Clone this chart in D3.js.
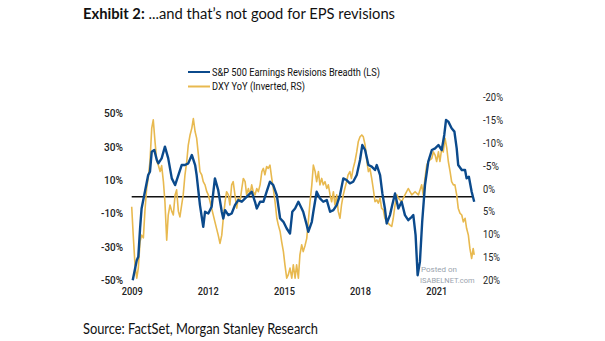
<!DOCTYPE html>
<html>
<head>
<meta charset="utf-8">
<script src="https://cdn.jsdelivr.net/npm/d3@7"></script>
<style>
  html, body { margin: 0; padding: 0; background: #fff; }
  svg { display: block; }
  text { font-family: Roboto, "Noto Sans", sans-serif; }
</style>
</head>
<body>
<svg id="viz" width="605" height="341"></svg>
<script>
(() => {
  // S&P 500 Earnings Revisions Breadth (left scale, %), [decimal year, value]
  const breadth = [
    [2009.04, -50], [2009.20, -38], [2009.26, -36], [2009.33, -19], [2009.39, -7],
    [2009.52, 3], [2009.65, 13], [2009.72, 15], [2009.79, 27], [2009.89, 28],
    [2009.99, 22], [2010.05, 20], [2010.18, 23], [2010.31, 30], [2010.44, 23],
    [2010.58, 11], [2010.71, 7], [2010.84, 13], [2010.97, 19], [2011.10, 19],
    [2011.23, 20], [2011.37, 25], [2011.50, 19], [2011.56, 13], [2011.69, -5],
    [2011.76, -12], [2011.82, -18], [2011.89, -9], [2012.02, -10], [2012.15, -6],
    [2012.28, 11], [2012.41, 4], [2012.55, -9], [2012.61, -13], [2012.68, -8],
    [2012.81, -11], [2012.94, -10], [2013.07, -5], [2013.20, -2], [2013.34, -3],
    [2013.47, -1], [2013.60, 1], [2013.73, 3], [2013.86, -3], [2013.93, -7],
    [2014.06, -3], [2014.19, -3], [2014.32, 3], [2014.45, 9], [2014.58, 7],
    [2014.72, 1], [2014.85, -13], [2014.98, -15], [2015.11, -19], [2015.24, -22],
    [2015.33, -9], [2015.44, -7], [2015.57, -3], [2015.70, -7], [2015.76, -9],
    [2015.90, -17], [2015.96, -21], [2016.10, -15], [2016.16, -9], [2016.29, 3],
    [2016.42, -1], [2016.55, -3], [2016.69, -2], [2016.82, -9], [2016.95, -8],
    [2017.08, -5], [2017.21, 1], [2017.34, 11], [2017.47, 10], [2017.60, 8],
    [2017.73, 9], [2017.87, 13], [2018.00, 22], [2018.09, 31], [2018.20, 28],
    [2018.33, 19], [2018.46, 18], [2018.59, 16], [2018.66, 19], [2018.79, 13],
    [2018.88, 2], [2018.98, -7], [2019.05, -16], [2019.18, -11], [2019.27, -5],
    [2019.38, 2], [2019.51, -7], [2019.64, -3], [2019.77, -11], [2019.90, -14],
    [2020.04, -12], [2020.10, -11], [2020.19, -23], [2020.27, -47], [2020.36, -39],
    [2020.45, -15], [2020.56, 7], [2020.69, 21], [2020.83, 28], [2020.96, 29],
    [2021.09, 31], [2021.22, 28], [2021.32, 37], [2021.39, 46], [2021.48, 45],
    [2021.61, 41], [2021.72, 39], [2021.81, 29], [2021.87, 19], [2022.01, 16],
    [2022.14, 16], [2022.20, 11], [2022.29, 12], [2022.40, 3], [2022.50, -3]
  ];

  // DXY YoY (right scale, inverted, %), [decimal year, value]
  const dxy = [
    [2009.00, 4], [2009.06, 10.2], [2009.13, 16.7], [2009.20, 19.6], [2009.26, 17.4],
    [2009.33, 11.6], [2009.39, 10.2], [2009.46, 10.8], [2009.52, 5], [2009.59, 0],
    [2009.65, -2.2], [2009.72, -5.9], [2009.79, -13.2], [2009.85, -15], [2009.92, -10.2],
    [2009.99, -5.9], [2010.05, -5.1], [2010.12, -3.7], [2010.18, -5], [2010.25, -1.5],
    [2010.31, 2.9], [2010.38, 11.3], [2010.44, 5.8], [2010.51, 3.6], [2010.58, 5],
    [2010.64, 5.8], [2010.71, 1.4], [2010.77, 0.3], [2010.84, 5], [2010.90, 6.2],
    [2010.97, 3.6], [2011.03, 1.4], [2011.10, -3], [2011.17, -5.9], [2011.23, -9.5],
    [2011.30, -11.7], [2011.37, -13.2], [2011.43, -15.3], [2011.50, -12.4], [2011.56, -11],
    [2011.63, -7.3], [2011.69, -3.7], [2011.76, -3], [2011.82, -1.5], [2011.89, -0.8],
    [2011.96, 0.7], [2012.02, 1.4], [2012.09, 2.9], [2012.15, 4.3], [2012.28, 7.3],
    [2012.41, 10.2], [2012.48, 12], [2012.55, 10.2], [2012.61, 6.5], [2012.68, 2.9],
    [2012.74, 0.7], [2012.81, 1.4], [2012.87, 3.6], [2012.94, -0.8], [2013.00, -1.5],
    [2013.07, 1.4], [2013.14, 4.3], [2013.20, 2.1], [2013.27, 2.9], [2013.34, 0],
    [2013.40, -2.2], [2013.47, -1.5], [2013.53, 1.4], [2013.60, 0], [2013.66, 1.4],
    [2013.73, -0.8], [2013.79, 0.7], [2013.86, 1.4], [2013.93, 0], [2013.99, 0.7],
    [2014.06, -0.8], [2014.13, -3.7], [2014.19, -4.4], [2014.25, -3], [2014.32, -4.8],
    [2014.38, -4.4], [2014.45, -5.1], [2014.52, -2.2], [2014.58, 0], [2014.65, 2.9],
    [2014.72, 6.5], [2014.78, 8], [2014.85, 9.4], [2014.91, 11.6], [2014.98, 13.8],
    [2015.04, 16.7], [2015.11, 19.6], [2015.17, 18.9], [2015.24, 17.4], [2015.31, 19.6],
    [2015.37, 16.7], [2015.44, 19.6], [2015.50, 16.7], [2015.57, 19.6], [2015.63, 14.5],
    [2015.70, 12.3], [2015.76, 13.8], [2015.83, 12.5], [2015.90, 10.9], [2015.96, 7.3],
    [2016.03, 2.9], [2016.10, -0.8], [2016.16, -5.1], [2016.23, -3.7], [2016.29, -1.5],
    [2016.36, -3.7], [2016.42, -0.8], [2016.49, -2.2], [2016.55, -0.8], [2016.62, -1.5],
    [2016.69, 0], [2016.75, -0.8], [2016.82, 1.4], [2016.88, 2.9], [2016.95, 0.7],
    [2017.01, 3.6], [2017.08, 1.4], [2017.14, 5], [2017.21, 6.5], [2017.27, 3.6],
    [2017.34, 1.4], [2017.40, 0], [2017.47, -1.5], [2017.53, -3], [2017.60, -3.7],
    [2017.66, -2.2], [2017.73, -4.4], [2017.80, -5.9], [2017.87, -8], [2017.93, -10.2],
    [2018.00, -11.3], [2018.07, -11.7], [2018.13, -11.3], [2018.20, -9.5], [2018.27, -5.9],
    [2018.33, -3.7], [2018.39, -4.4], [2018.46, -2.2], [2018.52, 0], [2018.59, 2.9],
    [2018.66, 2.5], [2018.72, 3.2], [2018.79, 2.1], [2018.85, 4.3], [2018.92, 4.7],
    [2018.98, 6.5], [2019.05, 7.3], [2019.11, 7.6], [2019.18, 8], [2019.25, 8.3],
    [2019.31, 6.5], [2019.38, 3.6], [2019.45, 1.4], [2019.51, 2.1], [2019.64, 2.9],
    [2019.77, 1.4], [2019.90, 0], [2020.04, 1.4], [2020.17, 0.7], [2020.30, 1.4],
    [2020.43, -0.8], [2020.49, 1.4], [2020.56, -2.2], [2020.63, -5.1], [2020.69, -5.9],
    [2020.83, -6.6], [2020.89, -8], [2020.96, -7.3], [2021.02, -5.9], [2021.09, -8],
    [2021.15, -5.9], [2021.22, -8.8], [2021.28, -8], [2021.35, -11], [2021.42, -8.8],
    [2021.48, -5.9], [2021.55, -3.7], [2021.61, -1.5], [2021.68, -0.8], [2021.74, -0.8],
    [2021.81, 1.4], [2021.87, 4.3], [2021.94, 5.4], [2022.01, 5.8], [2022.07, 7.3],
    [2022.14, 6.5], [2022.20, 8.7], [2022.27, 10.2], [2022.33, 13.1], [2022.40, 15.3],
    [2022.46, 13.1], [2022.50, 14.5]
  ];

  const yearTicks = [2009, 2012, 2015, 2018, 2021];
  const leftTicks = [-50, -30, -10, 10, 30, 50];
  const rightTicks = [-20, -15, -10, -5, 0, 5, 10, 15, 20];
  const legendLabels = ['S&P 500 Earnings Revisions Breadth (LS)', 'DXY YoY (Inverted, RS)'];

  const BLUE = '#0b4a8c';
  const GOLD = '#e8b94f';

  const svg = d3.select('#viz');

  const x = d3.scaleLinear().domain([2009, 2022.5]).range([131.7, 474.2]);
  const yL = d3.scaleLinear().domain([-50, 50]).range([280.25, 113.25]);
  // inverted right axis: negative at top
  const yR = d3.scaleLinear().domain([-20, 20]).range([97, 280]);

  // title
  const title = svg.append('text')
    .attr('x', 83).attr('y', 18.5)
    .style('font-family', 'Lato, "Noto Sans", sans-serif')
    .style('font-size', '15.5px')
    .attr('fill', '#111')
    .attr('textLength', 312)
    .attr('lengthAdjust', 'spacingAndGlyphs');
  title.append('tspan').attr('font-weight', 'bold').text('Exhibit 2:');
  title.append('tspan').text(' ...and that\u2019s not good for EPS revisions');

  // source
  svg.append('text')
    .attr('x', 83).attr('y', 334)
    .style('font-family', 'Lato, "Noto Sans", sans-serif')
    .style('font-size', '15px')
    .attr('fill', '#111')
    .attr('textLength', 235)
    .attr('lengthAdjust', 'spacingAndGlyphs')
    .text('Source: FactSet, Morgan Stanley Research');

  // legend
  const legend = svg.append('g');
  [BLUE, GOLD].forEach((c, i) => {
    const ly = 72 + i * 14.5;
    legend.append('line')
      .attr('x1', 188).attr('x2', 210)
      .attr('y1', ly).attr('y2', ly)
      .attr('stroke', c).attr('stroke-width', 2);
    legend.append('text')
      .attr('x', 212).attr('y', ly + 3.6)
      .style('font-size', '10px')
      .attr('fill', '#111')
      .attr('textLength', i === 0 ? 168 : 93)
      .attr('lengthAdjust', 'spacingAndGlyphs')
      .text(legendLabels[i]);
  });

  // left axis
  const axL = svg.append('g')
    .attr('transform', 'translate(123,0)')
    .call(d3.axisLeft(yL).tickValues(leftTicks).tickSize(0).tickPadding(0).tickFormat((d) => d + '%'));
  axL.select('.domain').remove();
  axL.selectAll('text')
    .style('font-family', 'Roboto, sans-serif')
    .style('font-size', '11px')
    .style('font-weight', '500')
    .attr('fill', '#222')
    .attr('textLength', (d) => (d < 0 ? 22 : 19))
    .attr('lengthAdjust', 'spacingAndGlyphs');

  // right axis
  const axR = svg.append('g')
    .attr('transform', 'translate(483,0)')
    .call(d3.axisRight(yR).tickValues(rightTicks).tickSize(0).tickPadding(0).tickFormat((d) => d + '%'));
  axR.select('.domain').remove();
  axR.selectAll('text')
    .style('font-family', 'Roboto, sans-serif')
    .style('font-size', '11px')
    .attr('fill', '#222')
    .attr('textLength', (d) => (d < 0 ? (d <= -10 ? 20 : 16) : (d >= 10 ? 17 : 12)))
    .attr('lengthAdjust', 'spacingAndGlyphs');

  // x axis labels
  const axX = svg.append('g')
    .attr('transform', 'translate(0,287)')
    .call(d3.axisBottom(x).tickValues(yearTicks).tickSize(0).tickPadding(0).tickFormat(d3.format('d')));
  axX.select('.domain').remove();
  axX.selectAll('text')
    .style('font-family', 'Roboto, sans-serif')
    .style('font-size', '11.5px')
    .style('font-weight', '500')
    .attr('fill', '#222')
    .attr('textLength', 21)
    .attr('lengthAdjust', 'spacingAndGlyphs');

  // zero line
  svg.append('line')
    .attr('x1', x(2009)).attr('x2', x(2022.45))
    .attr('y1', yL(0)).attr('y2', yL(0))
    .attr('stroke', '#111').attr('stroke-width', 1.3);

  const lineR = d3.line().x((d) => x(d[0])).y((d) => yR(d[1]));
  const lineL = d3.line().x((d) => x(d[0])).y((d) => yL(d[1]));

  svg.append('path')
    .datum(dxy)
    .attr('d', lineR)
    .attr('fill', 'none')
    .attr('stroke', GOLD)
    .attr('stroke-width', 1.6)
    .attr('stroke-linejoin', 'round');

  svg.append('path')
    .datum(breadth)
    .attr('d', lineL)
    .attr('fill', 'none')
    .attr('stroke', BLUE)
    .attr('stroke-width', 2.4)
    .attr('stroke-linejoin', 'round');

  // watermark
  const wm = svg.append('g').attr('fill', '#9aa3ad');
  wm.append('text').attr('x', 421).attr('y', 272).style('font-size', '8px').text('Posted on');
  wm.append('text').attr('x', 420).attr('y', 282.5).style('font-size', '7.5px').text('ISABELNET.com');
})();
</script>
</body>
</html>
